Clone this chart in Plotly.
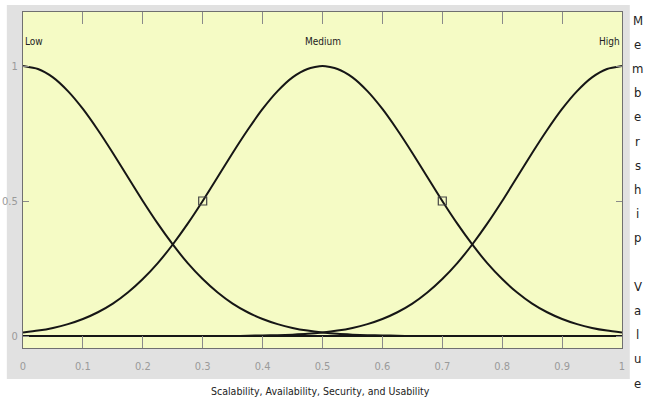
import plotly.graph_objects as go

# membership curves (x step 0.025)
x_vals = [0.000, 0.025, 0.050, 0.075, 0.100, 0.125, 0.150, 0.175, 0.200, 0.225,
          0.250, 0.275, 0.300, 0.325, 0.350, 0.375, 0.400, 0.425, 0.450, 0.475,
          0.500, 0.525, 0.550, 0.575, 0.600, 0.625, 0.650, 0.675, 0.700, 0.725,
          0.750, 0.775, 0.800, 0.825, 0.850, 0.875, 0.900, 0.925, 0.950, 0.975, 1.000]
low = [1.000, 0.989, 0.958, 0.907, 0.841, 0.763, 0.678, 0.589, 0.500, 0.416,
       0.339, 0.270, 0.211, 0.161, 0.120, 0.088, 0.063, 0.044, 0.030, 0.020,
       0.013, 0.008, 0.005, 0.003, 0.002, 0.001, 0.0, 0.0, 0.0, 0.0,
       0.0, 0.0, 0.0, 0.0, 0.0, 0.0, 0.0, 0.0, 0.0, 0.0, 0.0]
medium = [0.013, 0.020, 0.030, 0.044, 0.063, 0.088, 0.120, 0.161, 0.211, 0.270,
          0.339, 0.416, 0.500, 0.589, 0.678, 0.763, 0.841, 0.907, 0.958, 0.989,
          1.000, 0.989, 0.958, 0.907, 0.841, 0.763, 0.678, 0.589, 0.500, 0.416,
          0.339, 0.270, 0.211, 0.161, 0.120, 0.088, 0.063, 0.044, 0.030, 0.020, 0.013]
high = [0.0, 0.0, 0.0, 0.0, 0.0, 0.0, 0.0, 0.0, 0.0, 0.0,
        0.0, 0.0, 0.0, 0.0, 0.0, 0.001, 0.002, 0.003, 0.005, 0.008,
        0.013, 0.020, 0.030, 0.044, 0.063, 0.088, 0.120, 0.161, 0.211, 0.270,
        0.339, 0.416, 0.500, 0.589, 0.678, 0.763, 0.841, 0.907, 0.958, 0.989, 1.000]

marker_x = [0.3, 0.7]
marker_y = [0.5, 0.5]

mf_names = ["Low", "Medium", "High"]
mf_label_x = [0, 0.5, 1]

x_ticks = [0, 0.1, 0.2, 0.3, 0.4, 0.5, 0.6, 0.7, 0.8, 0.9, 1]
y_ticks = [0, 0.5, 1]

x_title = "Scalability, Availability, Security, and Usability"
y_title = "Membership Value"

NARROW = "Liberation Sans Narrow, DejaVu Sans Condensed, Arial Narrow, sans-serif"
LINE = "#161616"
Y_RANGE = [-0.0444, 1.2]

fig = go.Figure()
for ys in (low, medium, high):
    fig.add_trace(go.Scatter(x=x_vals, y=ys, mode="lines",
                             line=dict(color=LINE, width=2, shape="spline", smoothing=0.6),
                             hoverinfo="skip", showlegend=False))

fig.add_trace(go.Scatter(x=marker_x, y=marker_y, mode="markers",
                         marker=dict(symbol="square-open", size=8, color="#444444",
                                     line=dict(width=1.2)),
                         showlegend=False))

# grey panel round the axes, then the yellow plot face over it
fig.add_shape(type="rect", xref="paper", yref="paper",
              x0=-0.027, x1=1.013, y0=-0.092, y1=1.021,
              fillcolor="#e1e1e1", line_width=0, layer="below")
fig.add_shape(type="rect", xref="x", yref="y",
              x0=0, x1=1, y0=Y_RANGE[0], y1=Y_RANGE[1],
              fillcolor="#f5fbc5", line_width=0, layer="below")

for name, xv in zip(mf_names, mf_label_x):
    anchor = "left" if xv == 0 else ("right" if xv == 1 else "center")
    fig.add_annotation(x=xv, y=1.089, text=name, showarrow=False, xanchor=anchor,
                       font=dict(family=NARROW, size=10, color="#222222"))

fig.add_annotation(x=0.497, xref="paper", y=-0.128, yref="paper", text=x_title,
                   showarrow=False, yanchor="middle",
                   font=dict(family=NARROW, size=10.5, color="#222222"))

# y title stacked one letter per line on the right
for i, ch in enumerate(y_title):
    if ch == " ":
        continue
    fig.add_annotation(x=1.0267, xref="paper", xanchor="center",
                       y=(348 - 20 - i * 24.2) / 336, yref="paper", yanchor="middle",
                       text=ch, showarrow=False,
                       font=dict(family=NARROW, size=13, color="#222222"))

fig.update_xaxes(range=[0, 1], tickvals=x_ticks, ticktext=[("%g" % v) for v in x_ticks],
                 ticks="inside", ticklen=12, tickcolor="#8a8a8a", tickwidth=1,
                 showline=True, linecolor="#707070", linewidth=1, mirror="ticks",
                 showgrid=False, zeroline=False, automargin=False, ticklabelstandoff=8,
                 tickfont=dict(family=NARROW, size=11, color="#9a9a9a"))
fig.update_yaxes(range=Y_RANGE, tickvals=y_ticks, ticktext=["0", "0.5", "1"],
                 ticks="inside", ticklen=6, tickcolor="#8a8a8a", tickwidth=1,
                 showline=True, linecolor="#707070", linewidth=1, mirror="ticks",
                 showgrid=False, zeroline=True, zerolinecolor=LINE, zerolinewidth=1.5,
                 automargin=False, ticklabelstandoff=2,
                 tickfont=dict(family=NARROW, size=11, color="#9a9a9a"))

fig.update_layout(width=646, height=404,
                  margin=dict(l=23, r=24, t=12, b=56),
                  paper_bgcolor="white", plot_bgcolor="#f5fbc5",
                  showlegend=False)

# drop the browser's default page margin so the figure sits at the window corner
fig.write_html("out.html", config={"displayModeBar": False},
               post_script="document.body.style.margin='0px';")
